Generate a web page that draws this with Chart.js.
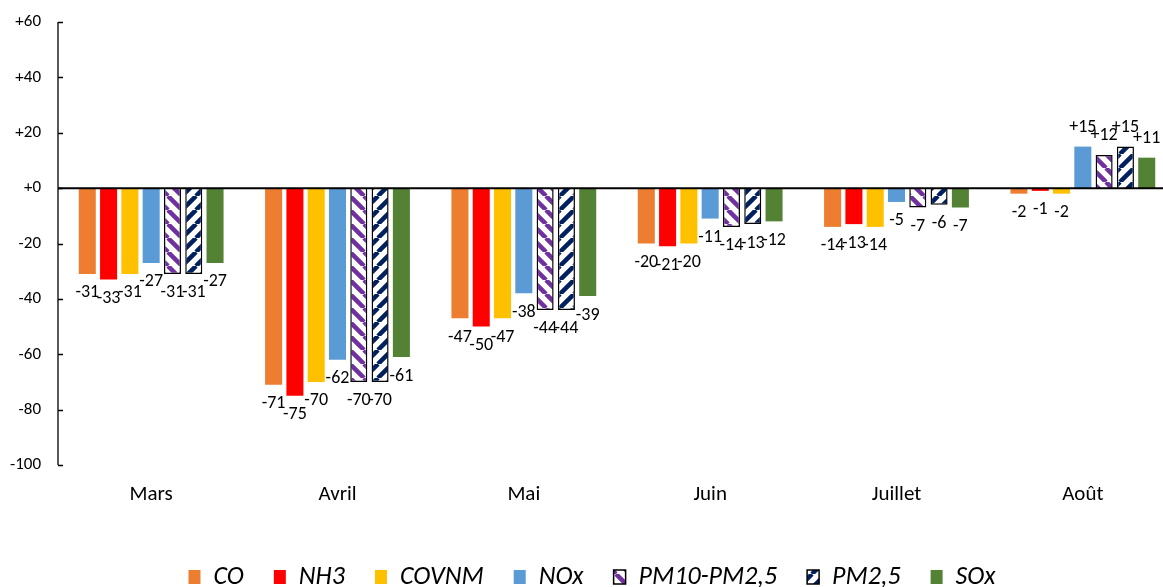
<!DOCTYPE html>
<html>
<head>
<meta charset="utf-8">
<script src="https://cdn.jsdelivr.net/npm/chart.js@4"></script>
<style>
  html, body { margin: 0; padding: 0; background: #fff; overflow: hidden; }
  #wrap { width: 1176px; height: 587px; }
</style>
</head>
<body>
<div id="wrap"><canvas id="emissions"></canvas></div>
<script>
const FONT = 'Carlito, Calibri, Lato, sans-serif';

const months = ['Mars', 'Avril', 'Mai', 'Juin', 'Juillet', 'Août'];
const pollutants = ['CO', 'NH3', 'COVNM', 'NOx', 'PM10-PM2,5', 'PM2,5', 'SOx'];

// variation (%) par mois
const co    = [-31, -71, -47, -20, -14, -2];
const nh3   = [-33, -75, -50, -21, -13, -1];
const covnm = [-31, -70, -47, -20, -14, -2];
const nox   = [-27, -62, -38, -11, -5, 15];
const pm10  = [-31, -70, -44, -14, -7, 12];
const pm25  = [-31, -70, -44, -13, -6, 15];
const sox   = [-27, -61, -39, -12, -7, 11];

const yTicks = [60, 40, 20, 0, -20, -40, -60, -80, -100];

function stripes(color, down) {
    const s = 14;
    const c = document.createElement('canvas');
    c.width = s; c.height = s;
    const g = c.getContext('2d');
    g.fillStyle = '#fff';
    g.fillRect(0, 0, s, s);
    g.strokeStyle = color;
    g.lineWidth = 4.5;
    g.beginPath();
    for (let k = -s; k <= s; k += s) {
        if (down) {
            g.moveTo(k, 0); g.lineTo(k + s, s);
        } else {
            g.moveTo(k, s); g.lineTo(k + s, 0);
        }
    }
    g.stroke();
    return g.createPattern(c, 'repeat');
}

const fmt = v => v > 0 ? '+' + v : (v === 0 ? '+0' : String(v));

// étiquettes de valeur + axes façon Excel
const labelsPlugin = {
    id: 'valueLabels',
    afterDatasetsDraw(chart) {
        const ctx = chart.ctx;
        const area = chart.chartArea;
        const y = chart.scales.y;
        ctx.save();
        ctx.strokeStyle = '#000';
        ctx.lineWidth = 1.3;
        ctx.beginPath();
        ctx.moveTo(area.left, area.top);
        ctx.lineTo(area.left, area.bottom);
        yTicks.forEach(t => {
            const py = Math.round(y.getPixelForValue(t)) + 0.5;
            ctx.moveTo(area.left, py);
            ctx.lineTo(area.left + 5, py);
        });
        ctx.stroke();
        const zero = y.getPixelForValue(0);
        ctx.lineWidth = 2;
        ctx.beginPath();
        ctx.moveTo(area.left, zero);
        ctx.lineTo(area.right, zero);
        ctx.stroke();

        ctx.font = '18px ' + FONT;
        ctx.fillStyle = '#000';
        ctx.textAlign = 'center';
        ctx.textBaseline = 'middle';
        chart.data.datasets.forEach((ds, i) => {
            chart.getDatasetMeta(i).data.forEach((bar, j) => {
                const v = ds.data[j];
                ctx.fillText(fmt(v), bar.x, bar.y + (v < 0 ? 19 : -19));
            });
        });
        ctx.restore();
    }
};

const series = [co, nh3, covnm, nox, pm10, pm25, sox];
const fills = ['#ED7D31', '#FF0000', '#FFC000', '#5B9BD5',
               stripes('#7030A0', true), stripes('#002060', false), '#548235'];

new Chart(document.getElementById('emissions'), {
    type: 'bar',
    data: {
        labels: months,
        datasets: pollutants.map((name, i) => ({
            label: name,
            data: series[i],
            backgroundColor: fills[i],
            borderColor: (i === 4 || i === 5) ? '#000' : fills[i],
            borderWidth: (i === 4 || i === 5) ? 1.5 : 0,
            categoryPercentage: 0.8,
            barPercentage: 0.8
        }))
    },
    plugins: [labelsPlugin],
    options: {
        responsive: true,
        maintainAspectRatio: false,
        devicePixelRatio: 1,
        animation: false,
        layout: { padding: { left: 8, top: 22, right: 0, bottom: -13 } },
        scales: {
            x: {
                grid: { display: false, drawTicks: false },
                border: { display: false },
                ticks: { color: '#000', font: { family: FONT, size: 21 }, padding: 17 },
                afterFit: s => { s.height = 69; }
            },
            y: {
                min: -100,
                max: 60,
                grid: { display: false, drawTicks: false },
                border: { display: false },
                afterFit: s => { s.width = 50; s.paddingTop = 0; s.paddingBottom = 0; },
                ticks: {
                    stepSize: 20,
                    color: '#000',
                    padding: 17,
                    font: { family: FONT, size: 17 },
                    callback: v => fmt(v)
                }
            }
        },
        plugins: {
            tooltip: { enabled: false },
            legend: {
                position: 'bottom',
                labels: {
                    boxWidth: 12,
                    boxHeight: 14,
                    padding: 30,
                    color: '#000',
                    font: { family: FONT, size: 26, style: 'italic' }
                }
            }
        }
    }
});
</script>
</body>
</html>
